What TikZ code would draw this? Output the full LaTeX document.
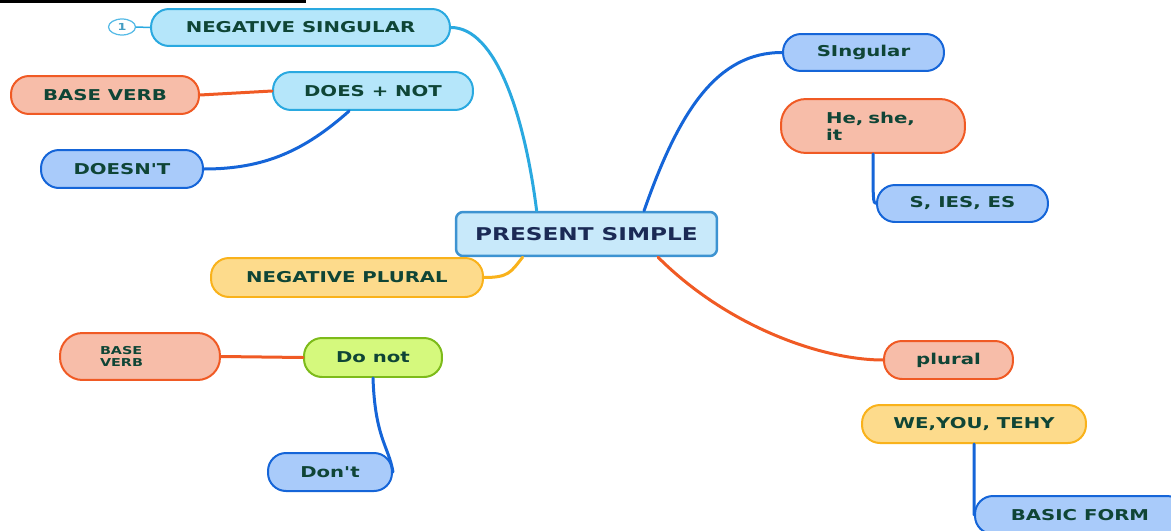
\documentclass[tikz,border=0pt]{standalone}
\usepackage{fontspec}
\usepackage{tikz}
\usetikzlibrary{positioning,calc}
\usetikzlibrary{shapes.geometric}
\newfontfamily\mapfont[FakeStretch=1.32]{DejaVu Sans}

\definecolor{txtgreen}{HTML}{0F4536}
\definecolor{txtnavy}{HTML}{1B2A55}
\definecolor{fillLB}{HTML}{B5E6FA}
\definecolor{lineLB}{HTML}{2AA9E0}
\definecolor{fillSal}{HTML}{F7BDA9}
\definecolor{lineSal}{HTML}{F05A24}
\definecolor{fillBlue}{HTML}{A9CBFA}
\definecolor{lineBlue}{HTML}{1565D8}
\definecolor{fillYel}{HTML}{FDDB8C}
\definecolor{lineYel}{HTML}{F9B21B}
\definecolor{fillGrn}{HTML}{D5F97D}
\definecolor{lineGrn}{HTML}{7DBB1A}
\definecolor{fillCore}{HTML}{C8E9FA}
\definecolor{lineCore}{HTML}{3D93D1}

\begin{document}
\begin{tikzpicture}[x=0.02cm, y=-0.02cm,
    bubble/.style={draw, line width=0.04cm, rounded corners=0.36cm, inner sep=0pt,
        minimum height=0.76cm, text=txtgreen,
        font=\mapfont\bfseries\fontsize{8.5}{10}\selectfont},
    lightbub/.style={bubble, fill=fillLB, draw=lineLB},
    salbub/.style={bubble, fill=fillSal, draw=lineSal},
    bluebub/.style={bubble, fill=fillBlue, draw=lineBlue},
    yelbub/.style={bubble, fill=fillYel, draw=lineYel},
    grnbub/.style={bubble, fill=fillGrn, draw=lineGrn},
    link/.style={line width=0.06cm, line cap=round}]
    \clip (0,0) rectangle (1171,531);

    % Underline at the top
    \draw[line width=0.045cm] (0,1.5) -- (306,1.5);

    % Central topic
    \node[draw=lineCore, fill=fillCore, line width=0.05cm, rounded corners=0.14cm,
        minimum width=5.22cm, minimum height=0.88cm, text=txtnavy,
        font=\mapfont\bfseries\fontsize{10}{12}\selectfont] (present) at (586.5,234) {PRESENT SIMPLE};

    % Left side
    \node[lightbub, minimum width=5.98cm, minimum height=0.74cm] (negsing) at (300.5,27.5) {NEGATIVE SINGULAR};
    \node[ellipse, draw=lineLB!80, line width=0.025cm, minimum width=0.54cm, minimum height=0.32cm,
        inner sep=0pt, text=lineLB!70!gray, font=\mapfont\bfseries\fontsize{5.5}{6}\selectfont] (num) at (122,27) {1};
    \node[lightbub, minimum width=4cm] (doesnot) at (373,91) {DOES + NOT};
    \node[salbub, minimum width=3.76cm] (baseverb) at (105,95) {BASE VERB};
    \node[bluebub, minimum width=3.24cm] (doesnt) at (122,169) {DOESN'T};
    \node[yelbub, minimum width=5.44cm, minimum height=0.78cm] (negplural) at (347,277.5) {NEGATIVE PLURAL};
    \node[salbub, rounded corners=0.45cm, minimum height=0.94cm, text width=1.6cm, inner xsep=0.8cm,
        align=left, font=\mapfont\bfseries\fontsize{6.2}{6.6}\selectfont] (baseverbb) at (140,356.5) {BASE\\VERB};
    \node[grnbub, minimum width=2.76cm, minimum height=0.78cm] (donot) at (373,357.5) {Do not};
    \node[bluebub, minimum width=2.48cm] (dont) at (330,472) {Don't};

    % Right side
    \node[bluebub, minimum width=3.22cm, minimum height=0.74cm] (singular) at (863.5,52.5) {SIngular};
    \node[salbub, rounded corners=0.5cm, minimum height=1.08cm, text width=1.88cm, inner xsep=0.9cm,
        align=left, font=\mapfont\bfseries\fontsize{8.5}{9.5}\selectfont] (heshe) at (873,126) {He, she,\\it};
    \node[bluebub, minimum width=3.42cm, minimum height=0.74cm] (sies) at (962.5,203.5) {S, IES, ES};
    \node[salbub, minimum width=2.58cm] (plural) at (948.5,360) {plural};
    \node[yelbub, minimum width=4.48cm] (weyou) at (974,424) {WE,YOU, TEHY};
    \node[bluebub, minimum width=4.2cm] (basic) at (1080,515) {BASIC FORM};

    % Branches
    \draw[link, draw=lineLB] (negsing.east) .. controls +(45,0) and +(-12,-95) .. (present.155);
    \draw[link, draw=lineLB, line width=0.03cm] (num.east) -- (negsing.west);
    \draw[link, draw=lineSal] (doesnot.west) -- (baseverb.east);
    \draw[link, draw=lineBlue] (doesnot.220) .. controls +(-45,40) and +(60,0) .. (doesnt.east);
    \draw[link, draw=lineYel] (negplural.east) .. controls +(25,0) and +(-12,15) .. (present.200);
    \draw[link, draw=lineSal] (donot.west) -- (baseverbb.east);
    \draw[link, draw=lineBlue] (donot.south) .. controls +(2,60) and +(-4,-25) .. (dont.east);
    \draw[link, draw=lineBlue] (present.22) .. controls +(35,-100) and +(-65,0) .. (singular.west);
    \draw[link, draw=lineBlue] (heshe.south) .. controls +(0,45) and +(-3,0) .. (sies.west);
    \draw[link, draw=lineSal] (present.-18) .. controls +(70,70) and +(-60,0) .. (plural.west);
    \draw[link, draw=lineBlue] (weyou.south) -- (basic.west);

\end{tikzpicture}
\end{document}
